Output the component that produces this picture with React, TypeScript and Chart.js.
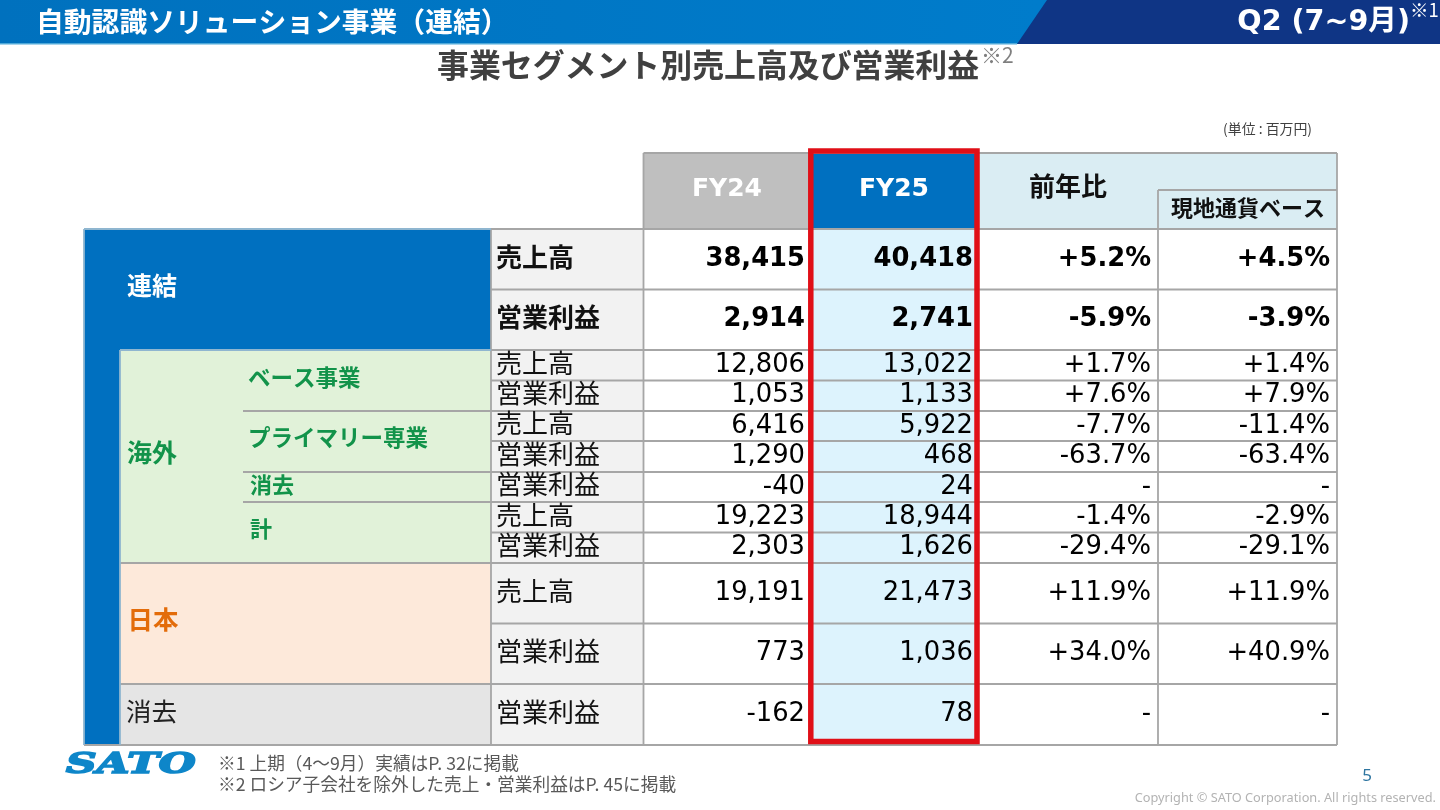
import React, { useEffect, useRef } from "react";
import { Chart, registerables } from "chart.js";

Chart.register(...registerables);

const metrics = ["売上高", "営業利益", "売上高", "営業利益", "売上高", "営業利益", "営業利益", "売上高", "営業利益", "売上高", "営業利益", "営業利益"];
const fy24 = [38415, 2914, 12806, 1053, 6416, 1290, -40, 19223, 2303, 19191, 773, -162];
const fy25 = [40418, 2741, 13022, 1133, 5922, 468, 24, 18944, 1626, 21473, 1036, 78];
const yoy = [5.2, -5.9, 1.7, 7.6, -7.7, -63.7, null, -1.4, -29.4, 11.9, 34.0, null];
const yoyLocal = [4.5, -3.9, 1.4, 7.9, -11.4, -63.4, null, -2.9, -29.1, 11.9, 40.9, null];
const columnHeads = ["FY24", "FY25", "前年比", "現地通貨ベース"];
const pageTitle = "自動認識ソリューション事業（連結）";
const periodLabel = "Q2 (7~9月)";
const subTitle = "事業セグメント別売上高及び営業利益";
const unitLabel = "(単位 : 百万円)";
const footnotes = ["※1 上期（4～9月）実績はP. 32に掲載", "※2 ロシア子会社を除外した売上・営業利益はP. 45に掲載"];

// layout (in page units of the hidden linear scales)
const rowEdges = [229, 289.5, 350, 380.5, 411, 441, 472, 502, 532.5, 563, 623.5, 684, 745];
const X = { left: 84, a: 120, b: 243, c: 491, d: 643.5, e: 811, f: 977, g: 1158, h: 1337 };
const rightEdges = [805, 973, 1151, 1330];
const LINE = "#a6a6a6";
const JP = '"Noto Sans CJK JP", "Noto Sans", sans-serif';
const LAT = '"DejaVu Sans", "Noto Sans CJK JP", sans-serif';

const fmtNum = (v: number) => v.toLocaleString("en-US");
const fmtPct = (v: number | null) => (v === null ? "-" : (v > 0 ? "+" : "") + v.toFixed(1) + "%");
const rowCenter = (i: number) => (rowEdges[i] + rowEdges[i + 1]) / 2;

const tablePlugin = {
  id: "tablePlugin",
  beforeDatasetsDraw(chart: any) {
    const { ctx, scales } = chart;
    const px = (v: number) => scales.x.getPixelForValue(v);
    const py = (v: number) => scales.y.getPixelForValue(v);
    const rect = (x0: number, y0: number, x1: number, y1: number, c: string) => {
      ctx.fillStyle = c;
      ctx.fillRect(px(x0), py(y0), px(x1) - px(x0), py(y1) - py(y0));
    };
    const hline = (x0: number, x1: number, y: number, w = 1.8, c = LINE) => {
      ctx.strokeStyle = c;
      ctx.lineWidth = w;
      ctx.beginPath();
      ctx.moveTo(px(x0), py(y));
      ctx.lineTo(px(x1), py(y));
      ctx.stroke();
    };
    const vline = (x: number, y0: number, y1: number, w = 1.8, c = LINE) => {
      ctx.strokeStyle = c;
      ctx.lineWidth = w;
      ctx.beginPath();
      ctx.moveTo(px(x), py(y0));
      ctx.lineTo(px(x), py(y1));
      ctx.stroke();
    };
    ctx.save();
    rect(0, 0, 1440, 810, "#ffffff");
    // top band
    const grad = ctx.createLinearGradient(px(0), 0, px(1040), 0);
    grad.addColorStop(0, "#0071be");
    grad.addColorStop(1, "#007ccb");
    ctx.fillStyle = grad;
    ctx.fillRect(px(0), py(0), px(1050), py(44));
    ctx.fillStyle = "#0f3585";
    ctx.beginPath();
    ctx.moveTo(px(1047), py(0));
    ctx.lineTo(px(1440), py(0));
    ctx.lineTo(px(1440), py(44));
    ctx.lineTo(px(1017), py(44));
    ctx.closePath();
    ctx.fill();
    rect(0, 43, 1017, 44.5, "#4fa9d9");

    // left block fills
    rect(X.left, rowEdges[0], X.a, rowEdges[12], "#0070c0");
    rect(X.a, rowEdges[0], X.c, rowEdges[2], "#0070c0");
    rect(X.a, rowEdges[2], X.c, rowEdges[9], "#e1f2d9");
    rect(X.a, rowEdges[9], X.c, rowEdges[11], "#fde9da");
    rect(X.a, rowEdges[11], X.c, rowEdges[12], "#e5e5e5");
    // metric label column and data column
    rect(X.c, rowEdges[0], X.d, rowEdges[12], "#f2f2f2");
    rect(X.e, rowEdges[0], X.f, rowEdges[12], "#ddf3fd");
    // header fills
    rect(X.d, 153, X.e, rowEdges[0], "#bfbfbf");
    rect(X.e, 153, X.f, rowEdges[0], "#0070c0");
    rect(X.f, 153, X.h, rowEdges[0], "#daedf3");

    // rules
    rowEdges.forEach((y, i) => {
      if (i > 0 && i < 12) hline(X.c, X.h, y);
    });
    hline(X.c, X.h, rowEdges[0]);
    hline(X.c, X.h, rowEdges[12]);
    hline(X.d, X.h, 153);
    hline(X.g, X.h, 190);
    [X.d, X.f, X.h].forEach((x) => vline(x, 153, rowEdges[12]));
    vline(X.e, 153, rowEdges[12]);
    vline(X.g, 190, rowEdges[12]);
    vline(X.c, rowEdges[0], rowEdges[12]);
    hline(X.a, X.c, rowEdges[2], 1.8, "#8fb6d0");
    hline(X.b, X.c, rowEdges[4]);
    hline(X.b, X.c, rowEdges[6]);
    hline(X.b, X.c, rowEdges[7]);
    hline(X.a, X.c, rowEdges[9]);
    hline(X.a, X.c, rowEdges[11]);
    hline(X.left, X.c, rowEdges[0], 1.8, "#8fb6d0");
    hline(X.left, X.c, rowEdges[12]);
    vline(X.left, rowEdges[0], rowEdges[12], 1.8, "#8fb6d0");
    vline(X.a, rowEdges[2], rowEdges[12], 1.8, "#8fb6d0");
    ctx.restore();
  },
  afterDatasetsDraw(chart: any) {
    const { ctx, scales } = chart;
    const px = (v: number) => scales.x.getPixelForValue(v);
    const py = (v: number) => scales.y.getPixelForValue(v);
    const text = (s: string, x: number, y: number, font: string, color: string, align: CanvasTextAlign = "left") => {
      ctx.font = font;
      ctx.fillStyle = color;
      ctx.textAlign = align;
      ctx.textBaseline = "middle";
      ctx.fillText(s, px(x), py(y));
    };
    ctx.save();
    // value cells: anchored at the library's point elements
    chart.data.datasets.forEach((ds: any, di: number) => {
      const meta = chart.getDatasetMeta(di);
      meta.data.forEach((pt: any, i: number) => {
        const big = i < 2;
        ctx.font = `${big ? "bold " : ""}25.8px ${LAT}`;
        ctx.fillStyle = "#000000";
        ctx.textAlign = "right";
        ctx.textBaseline = "middle";
        ctx.fillText(ds.labels[i], pt.x, pt.y);
      });
    });
    // metric labels
    metrics.forEach((m, i) => {
      text(m, 496, rowCenter(i) - 2.5, `${i < 2 ? "bold" : "normal"} 26px ${JP}`, "#111111");
    });
    // section labels
    text("連結", 127, 285, `bold 25px ${JP}`, "#ffffff");
    text("海外", 127, 452, `bold 25px ${JP}`, "#12934a");
    text("ベース事業", 248, 377, `bold 22.5px ${JP}`, "#12934a");
    text("プライマリー専業", 248, 437.5, `bold 22.5px ${JP}`, "#12934a");
    text("消去", 250, 485, `bold 22px ${JP}`, "#12934a");
    text("計", 250, 529, `bold 22px ${JP}`, "#12934a");
    text("日本", 127.5, 619, `bold 25.5px ${JP}`, "#e36c0a");
    text("消去", 126, 711, `normal 25.5px ${JP}`, "#222222");
    // column heads
    text(columnHeads[0], 727, 189, `bold 25px ${LAT}`, "#ffffff", "center");
    text(columnHeads[1], 894, 189, `bold 25px ${LAT}`, "#ffffff", "center");
    text(columnHeads[2], 1068, 186, `bold 26px ${JP}`, "#111111", "center");
    text(columnHeads[3], 1248, 208, `bold 22px ${JP}`, "#111111", "center");
    // red frame
    ctx.strokeStyle = "#e00f17";
    ctx.lineWidth = 5.5;
    ctx.strokeRect(px(810.8), py(151), px(977) - px(810.8), py(741.5) - py(151));
    // page furniture
    text(pageTitle, 36, 21, `bold 27.8px ${JP}`, "#ffffff");
    text(periodLabel, 1410, 23, `bold 28.6px ${LAT}`, "#ffffff", "right");
    text("※1", 1410, 10, `normal 18.5px ${JP}`, "#ffffff");
    text(subTitle, 437, 65, `bold 31.9px ${JP}`, "#404040");
    text("※2", 981, 55, `normal 21px ${JP}`, "#7f7f7f");
    text(unitLabel, 1312, 129, `normal 13.9px ${JP}`, "#404040", "right");
    text(footnotes[0], 218, 763, `normal 17.7px ${JP}`, "#595959");
    text(footnotes[1], 218, 784, `normal 17.7px ${JP}`, "#595959");
    text("5", 1367, 776, `normal 17px "Noto Sans", sans-serif`, "#2e75a0", "center");
    text("Copyright © SATO Corporation. All rights reserved.", 1436, 798, `normal 12.75px "Noto Sans", sans-serif`, "#b3b3b3", "right");
    // logo wordmark
    ctx.save();
    ctx.translate(px(66), py(766));
    ctx.scale(1.62, 1);
    ctx.font = `italic bold 27px "DejaVu Serif", serif`;
    ctx.fillStyle = "#0e86c9";
    ctx.strokeStyle = "#0e86c9";
    ctx.lineWidth = 1.6;
    ctx.textAlign = "left";
    ctx.textBaseline = "middle";
    ctx.fillText("SATO", 0, 0, 80);
    ctx.strokeText("SATO", 0, 0, 80);
    ctx.restore();
    ctx.restore();
  },
};

const columns: string[][] = [fy24.map(fmtNum), fy25.map(fmtNum), yoy.map(fmtPct), yoyLocal.map(fmtPct)];

export default function App() {
  const ref = useRef<HTMLCanvasElement | null>(null);
  useEffect(() => {
    document.body.style.margin = "0";
    const chart = new Chart(ref.current as HTMLCanvasElement, {
      type: "scatter",
      data: {
        datasets: columns.map((labels, c) => ({
          label: columnHeads[c],
          labels,
          data: labels.map((_, i) => ({ x: rightEdges[c], y: rowCenter(i) })),
          pointRadius: 0,
        })) as any,
      },
      options: {
        animation: false,
        responsive: false,
        devicePixelRatio: 1,
        layout: { padding: 0 },
        plugins: { legend: { display: false }, tooltip: { enabled: false } },
        scales: {
          x: { type: "linear", min: 0, max: 1440, display: false },
          y: { type: "linear", min: 0, max: 810, reverse: true, display: false },
        },
      },
      plugins: [tablePlugin],
    });
    return () => chart.destroy();
  }, []);
  return <canvas ref={ref} width={1440} height={810} style={{ display: "block", width: 1440, height: 810 }} />;
}
